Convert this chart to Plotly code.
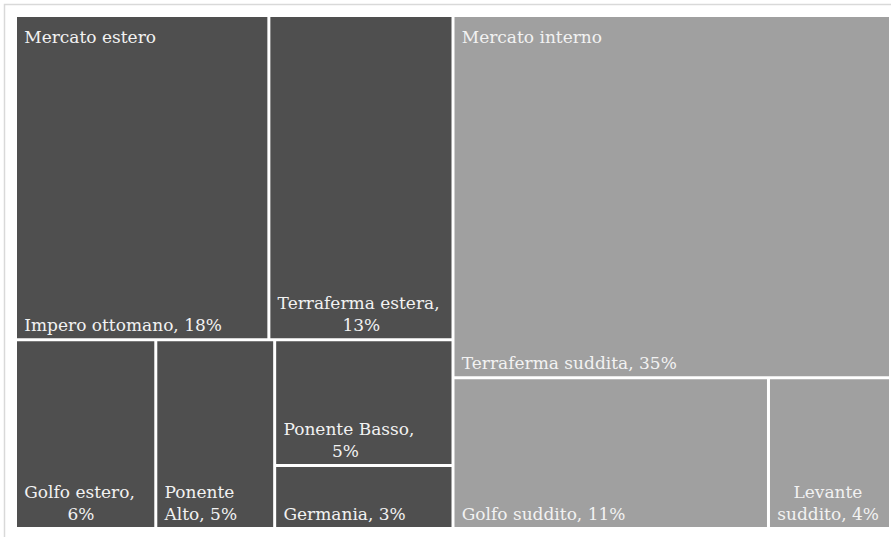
import plotly.graph_objects as go

# ---- data ----
groups = ["Mercato estero", "Mercato interno"]
group_colors = ["#4f4f4f", "#a0a0a0"]

regions = ["Impero ottomano", "Terraferma estera", "Golfo estero", "Ponente Alto",
           "Ponente Basso", "Germania", "Terraferma suddita", "Golfo suddito",
           "Levante suddito"]
region_group = ["Mercato estero"] * 6 + ["Mercato interno"] * 3
# tile sizes (share, %) as read from the tile areas
shares = [18.3, 13.3, 5.9, 5.0, 5.0, 2.5, 35.3, 10.6, 4.1]
# percentages as printed on the labels
pct_labels = [18, 13, 6, 5, 5, 3, 35, 11, 4]
# where each label wraps (first line) or None for a single line
wrap_at = [None, "Terraferma estera,", "Golfo estero,", "Ponente", "Ponente Basso,",
           None, None, None, "Levante"]

NB = "\u00a0"     # no-break space, used to centre wrapped lines
INSET = "\u2005"  # small left inset, as in the reference labels

# rough glyph widths (em) of DejaVu Serif, only to centre wrapped lines
_W = {" ": .318, ",": .318, "%": .95, "i": .32, "l": .32, "t": .4, "f": .37,
      "r": .48, "s": .51, "v": .56, "m": .95, "A": .72, "B": .73, "G": .77,
      "L": .67, "P": .6, "T": .68}


def _width(s):
    return sum(_W.get(c, .636 if c.isdigit() else .6) for c in s)


def label_text(name, val, first):
    full = f"{name}, {val}%"
    if first is None:
        return INSET + full
    second = full[len(first):].strip()
    diff = (_width(first) - _width(second)) / 2 / .318
    pad = NB * int(round(abs(diff)))
    if diff > 0:
        second = pad + second
    else:
        first = pad + first
    return INSET + first + "<br>" + INSET + second


ids = groups + regions
parents = ["", ""] + region_group
values = [round(sum(v for v, g in zip(shares, region_group) if g == gr), 6) for gr in groups] + shares
# group nodes are white so that the gaps between tiles show white
colors = ["white", "white"] + [group_colors[groups.index(g)] for g in region_group]
texts = ["", ""] + [label_text(n, v, w) for n, v, w in zip(regions, pct_labels, wrap_at)]

# group titles, written on the first tile of each group (top left);
# a tiny transparent first line gives the title its top inset
SPACER = "<span style='font-size:1px;color:rgba(0,0,0,0)'>.</span><br>"
first_of_group = {g: region_group.index(g) for g in groups}
title_texts = ["", ""] + [SPACER + INSET + g if first_of_group[g] == i else ""
                          for i, g in enumerate(region_group)]

FONT = "DejaVu Serif"
FS = 17
domain = dict(x=[17 / 891, 889 / 891], y=[1 - 527 / 537, 1 - 17 / 537])

fig = go.Figure()
fig.add_trace(go.Treemap(
    ids=ids, labels=ids, parents=parents, values=values,
    branchvalues="total", sort=False,
    tiling=dict(pad=3),
    marker=dict(colors=colors, line=dict(width=0),
                pad=dict(t=0, l=0, r=0, b=0)),
    text=texts, texttemplate="%{text}", textposition="bottom left",
    textfont=dict(family=FONT, size=FS, color="#f2f2f2"),
    pathbar=dict(visible=False), root=dict(color="white"),
    domain=domain, hoverinfo="label+value",
))
fig.add_trace(go.Treemap(
    ids=ids, labels=ids, parents=parents, values=values,
    branchvalues="total", sort=False,
    tiling=dict(pad=3),
    marker=dict(colors=["rgba(0,0,0,0)"] * len(ids), line=dict(width=0),
                pad=dict(t=0, l=0, r=0, b=0)),
    text=title_texts, texttemplate="%{text}", textposition="top left",
    textfont=dict(family=FONT, size=FS, color="#f2f2f2"),
    pathbar=dict(visible=False), root=dict(color="rgba(0,0,0,0)"),
    domain=domain, hoverinfo="skip",
))

fig.update_layout(
    width=891, height=537,
    margin=dict(l=0, r=0, t=0, b=0),
    paper_bgcolor="white",
    showlegend=False,
    shapes=[dict(type="rect", xref="paper", yref="paper",
                 x0=4.5 / 891, x1=1.02, y0=-0.02, y1=1 - 4.5 / 537,
                 line=dict(color="#d9d9d9", width=1.5), fillcolor="rgba(0,0,0,0)",
                 layer="below")],
)

fig.write_html("out.html", config={"displayModeBar": False},
               post_script="document.body.style.margin='0';")
